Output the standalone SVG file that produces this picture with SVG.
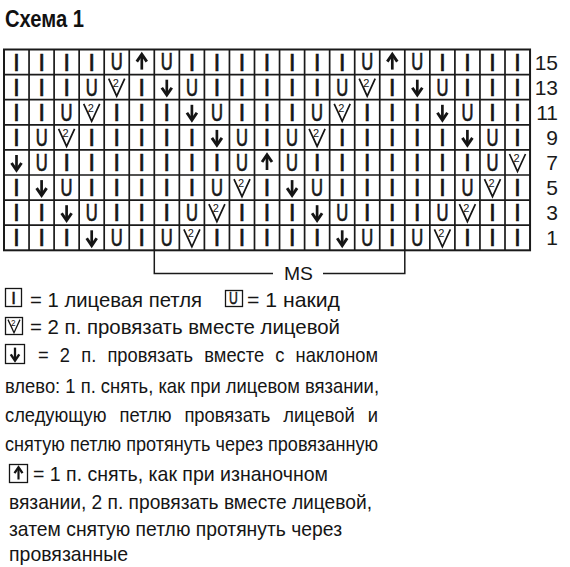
<svg xmlns="http://www.w3.org/2000/svg" xmlns:xlink="http://www.w3.org/1999/xlink" width="570" height="567" viewBox="0 0 570 567">
<style>
.t{font-family:"Liberation Sans",Arial,sans-serif;font-size:21px;fill:#151515}
.g{font-family:"Liberation Sans",Arial,sans-serif;font-size:23px;fill:#151515;text-anchor:middle;stroke:#151515;stroke-width:0.7}
.num{font-family:"Liberation Sans",Arial,sans-serif;font-size:21px;fill:#1a1a1a;text-anchor:end}
.sym{fill:none;stroke:#151515}
.box{fill:none;stroke:#151515;stroke-width:1.3}
</style>
<defs>
<g id="dn" class="sym"><path d="M0,-7.5V7" stroke-width="2.7"/><path d="M-5,0.5L0,7.8L5,0.5" stroke-width="2.9" stroke-linejoin="miter"/></g>
<g id="up" class="sym"><path d="M0,7.5V-7" stroke-width="2.7"/><path d="M-5,-0.5L0,-7.8L5,-0.5" stroke-width="2.9" stroke-linejoin="miter"/></g>
<g id="v2"><path class="sym" d="M-8,-8.5L0,9L8,-8.5M-4,0L0,9" stroke-width="1.7"/><text x="-1" y="-0.5" font-family="Liberation Sans,Arial,sans-serif" font-size="11" text-anchor="middle" fill="#151515">2</text></g>
</defs>
<rect width="570" height="567" fill="#ffffff"/>
<text x="5" y="27" font-family="Liberation Sans,Arial,sans-serif" font-size="24" font-weight="bold" fill="#111" textLength="79" lengthAdjust="spacingAndGlyphs">Схема 1</text>

<g id="grid">
<path d="M29.05,49.5V250.3M54.1,49.5V250.3M79.15,49.5V250.3M104.2,49.5V250.3M129.25,49.5V250.3M154.3,49.5V250.3M179.35,49.5V250.3M204.4,49.5V250.3M229.45,49.5V250.3M254.5,49.5V250.3M279.55,49.5V250.3M304.6,49.5V250.3M329.65,49.5V250.3M354.7,49.5V250.3M379.75,49.5V250.3M404.8,49.5V250.3M429.85,49.5V250.3M454.9,49.5V250.3M479.95,49.5V250.3M505,49.5V250.3M4,74.6H530.05M4,99.7H530.05M4,124.8H530.05M4,149.9H530.05M4,175H530.05M4,200.1H530.05M4,225.2H530.05" fill="none" stroke="#1a1a1a" stroke-width="1.7"/>
<rect x="4" y="49.5" width="526.05" height="200.8" fill="none" stroke="#1a1a1a" stroke-width="2"/>
</g>

<g id="knit" class="g">
<text x="16.5 41.6 66.6 91.7" y="70.5">IIII</text>
<text x="191.9 216.9 242.0 267.0 292.1 317.1 342.2" y="70.5">IIIIIII</text>
<text x="442.4 467.4 492.5 517.5" y="70.5">IIII</text>

<text x="16.5 41.6 66.6" y="95.6">III</text>
<text x="141.8" y="95.6">I</text>
<text x="216.9 242.0 267.0 292.1 317.1" y="95.6">IIIII</text>
<text x="392.3" y="95.6">I</text>
<text x="467.4 492.5 517.5" y="95.6">III</text>

<text x="16.5 41.6" y="120.7">II</text>
<text x="116.7 141.8 166.8" y="120.7">III</text>
<text x="242.0 267.0 292.1" y="120.7">III</text>
<text x="367.2 392.3 417.3" y="120.7">III</text>
<text x="492.5 517.5" y="120.7">II</text>

<text x="16.5" y="145.8">I</text>
<text x="91.7 116.7 141.8 166.8 191.9" y="145.8">IIIII</text>
<text x="267.0" y="145.8">I</text>
<text x="342.2 367.2 392.3 417.3 442.4" y="145.8">IIIII</text>
<text x="517.5" y="145.8">I</text>

<text x="66.6 91.7 116.7 141.8 166.8 191.9 216.9" y="170.9">IIIIIII</text>
<text x="317.1 342.2 367.2 392.3 417.3 442.4 467.4" y="170.9">IIIIIII</text>

<text x="16.5" y="196">I</text>
<text x="91.7 116.7 141.8 166.8 191.9" y="196">IIIII</text>
<text x="267.0" y="196">I</text>
<text x="342.2 367.2 392.3 417.3 442.4" y="196">IIIII</text>
<text x="517.5" y="196">I</text>

<text x="16.5 41.6" y="221.1">II</text>
<text x="116.7 141.8 166.8" y="221.1">III</text>
<text x="242.0 267.0 292.1" y="221.1">III</text>
<text x="367.2 392.3 417.3" y="221.1">III</text>
<text x="492.5 517.5" y="221.1">II</text>

<text x="16.5 41.6 66.6" y="246.2">III</text>
<text x="141.8" y="246.2">I</text>
<text x="216.9 242.0 267.0 292.1 317.1" y="246.2">IIIII</text>
<text x="392.3" y="246.2">I</text>
<text x="467.4 492.5 517.5" y="246.2">III</text>
</g>

<g id="yarnover" class="g" transform="scale(0.72 1)">
<text x="162.1" y="70.5">U</text><text x="231.7" y="70.5">U</text><text x="510.0" y="70.5">U</text><text x="579.6" y="70.5">U</text>
<text x="127.4" y="95.6">U</text><text x="266.5" y="95.6">U</text><text x="475.3" y="95.6">U</text><text x="614.4" y="95.6">U</text>
<text x="92.5" y="120.7">U</text><text x="301.3" y="120.7">U</text><text x="440.4" y="120.7">U</text><text x="649.2" y="120.7">U</text>
<text x="57.8" y="145.8">U</text><text x="336.1" y="145.8">U</text><text x="405.7" y="145.8">U</text><text x="684.0" y="145.8">U</text>
<text x="57.8" y="170.9">U</text><text x="336.1" y="170.9">U</text><text x="405.7" y="170.9">U</text><text x="684.0" y="170.9">U</text>
<text x="92.5" y="196">U</text><text x="301.3" y="196">U</text><text x="440.4" y="196">U</text><text x="649.2" y="196">U</text>
<text x="127.4" y="221.1">U</text><text x="266.5" y="221.1">U</text><text x="475.3" y="221.1">U</text><text x="614.4" y="221.1">U</text>
<text x="162.1" y="246.2">U</text><text x="231.7" y="246.2">U</text><text x="510.0" y="246.2">U</text><text x="579.6" y="246.2">U</text>
</g>

<g id="symbols">
<use xlink:href="#up" x="141.8" y="62.1"/><use xlink:href="#up" x="392.3" y="62.1"/>
<use xlink:href="#v2" x="116.7" y="87.2"/><use xlink:href="#v2" x="367.2" y="87.2"/>
<use xlink:href="#dn" x="166.8" y="87.2"/><use xlink:href="#dn" x="417.3" y="87.2"/>
<use xlink:href="#v2" x="91.7" y="112.3"/><use xlink:href="#v2" x="342.2" y="112.3"/>
<use xlink:href="#dn" x="191.9" y="112.3"/><use xlink:href="#dn" x="442.4" y="112.3"/>
<use xlink:href="#v2" x="66.6" y="137.4"/><use xlink:href="#v2" x="317.1" y="137.4"/>
<use xlink:href="#dn" x="216.9" y="137.4"/><use xlink:href="#dn" x="467.4" y="137.4"/>
<use xlink:href="#dn" x="16.5" y="162.5"/><use xlink:href="#up" x="267.0" y="162.5"/><use xlink:href="#v2" x="517.5" y="162.5"/>
<use xlink:href="#dn" x="41.6" y="187.6"/><use xlink:href="#dn" x="292.1" y="187.6"/>
<use xlink:href="#v2" x="242.0" y="187.6"/><use xlink:href="#v2" x="492.5" y="187.6"/>
<use xlink:href="#dn" x="66.6" y="212.7"/><use xlink:href="#dn" x="317.1" y="212.7"/>
<use xlink:href="#v2" x="216.9" y="212.7"/><use xlink:href="#v2" x="467.4" y="212.7"/>
<use xlink:href="#dn" x="91.7" y="237.8"/><use xlink:href="#dn" x="342.2" y="237.8"/>
<use xlink:href="#v2" x="191.9" y="237.8"/><use xlink:href="#v2" x="442.4" y="237.8"/>
</g>

<g id="rownums" class="num">
<text x="558" y="69.5">15</text>
<text x="558" y="94.6">13</text>
<text x="558" y="119.7">11</text>
<text x="558" y="144.8">9</text>
<text x="558" y="169.9">7</text>
<text x="558" y="195">5</text>
<text x="558" y="220.1">3</text>
<text x="558" y="245.2">1</text>
</g>

<g id="ms">
<path d="M154.3,250.3V273.5H273M323,273.5H404.8V250.3" fill="none" stroke="#1a1a1a" stroke-width="1.5"/>
<text x="284" y="280" font-family="Liberation Sans,Arial,sans-serif" font-size="19" fill="#151515" textLength="29" lengthAdjust="spacingAndGlyphs">MS</text>
</g>

<g id="legend">
<rect class="box" x="5.5" y="288.5" width="16" height="18"/>
<text x="13.5" y="304" font-family="Liberation Sans,Arial,sans-serif" font-size="17" text-anchor="middle" fill="#151515" stroke="#151515" stroke-width="0.5">I</text>
<text class="t" x="30" y="307" textLength="172" lengthAdjust="spacingAndGlyphs">= 1 лицевая петля</text>
<rect class="box" x="225.5" y="290.5" width="17" height="16"/>
<text x="324.3" y="304" font-family="Liberation Sans,Arial,sans-serif" font-size="17" text-anchor="middle" fill="#151515" stroke="#151515" stroke-width="0.5" transform="scale(0.72 1)">U</text>
<text class="t" x="247" y="307" textLength="93" lengthAdjust="spacingAndGlyphs">= 1 накид</text>
<rect class="box" x="5.5" y="317.5" width="17" height="17"/>
<use xlink:href="#v2" transform="translate(14 326) scale(0.75)"/>
<text class="t" x="30" y="334" textLength="310" lengthAdjust="spacingAndGlyphs">= 2 п. провязать вместе лицевой</text>
<rect class="box" x="5.5" y="344.5" width="19" height="19"/>
<use xlink:href="#dn" transform="translate(15 354) scale(0.85)"/>
<text class="t" x="38" y="362" textLength="340" lengthAdjust="spacingAndGlyphs" word-spacing="7">= 2 п. провязать вместе с наклоном</text>
<text class="t" x="5" y="393" textLength="374" lengthAdjust="spacingAndGlyphs">влево: 1 п. снять, как при лицевом вязании,</text>
<text class="t" x="5" y="422" textLength="373" lengthAdjust="spacingAndGlyphs" word-spacing="9">следующую петлю провязать лицевой и</text>
<text class="t" x="5" y="451" textLength="373" lengthAdjust="spacingAndGlyphs">снятую петлю протянуть через провязанную</text>
<rect class="box" x="9.5" y="464.5" width="18" height="18"/>
<use xlink:href="#up" transform="translate(18.5 473.5) scale(0.8)"/>
<text class="t" x="33" y="481" textLength="295" lengthAdjust="spacingAndGlyphs">= 1 п. снять, как при изнаночном</text>
<text class="t" x="9" y="509" textLength="363" lengthAdjust="spacingAndGlyphs">вязании, 2 п. провязать вместе лицевой,</text>
<text class="t" x="9" y="536" textLength="333" lengthAdjust="spacingAndGlyphs">затем снятую петлю протянуть через</text>
<text class="t" x="9" y="561" textLength="119" lengthAdjust="spacingAndGlyphs">провязанные</text>
</g>
</svg>
